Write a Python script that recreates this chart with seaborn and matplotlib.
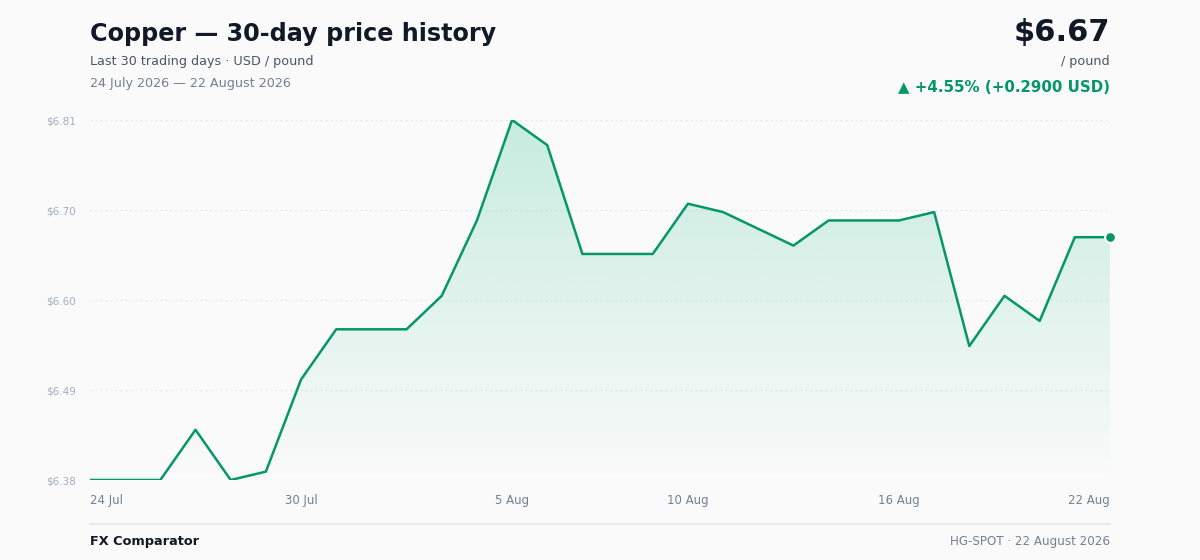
"""Copper 30-day price history card, drawn with seaborn + matplotlib."""

import matplotlib

matplotlib.use("Agg")

import matplotlib.pyplot as plt
import numpy as np
import pandas as pd
import seaborn as sns
from matplotlib.colors import to_rgb

# --- data -------------------------------------------------------------------
dates = pd.date_range("2026-07-24", "2026-08-22", freq="D")
prices = [
    6.38, 6.38, 6.38, 6.44, 6.38, 6.39, 6.50, 6.56, 6.56, 6.56,
    6.60, 6.69, 6.81, 6.78, 6.65, 6.65, 6.65, 6.71, 6.70, 6.68,
    6.66, 6.69, 6.69, 6.69, 6.70, 6.54, 6.60, 6.57, 6.67, 6.67,
]
tick_idx = [0, 6, 12, 17, 23, 29]
tick_labels = ["24 Jul", "30 Jul", "5 Aug", "10 Aug", "16 Aug", "22 Aug"]

GREEN = "#059669"
BG = "#fafafa"
DARK = "#111827"
MUTED = "#4a5568"
LIGHT = "#718096"

df = pd.DataFrame({"day": np.arange(len(prices)), "price": prices, "date": dates})

sns.set_theme(style="white")
plt.rcParams["font.family"] = ["DejaVu Sans"]

fig = plt.figure(figsize=(12, 5.6), dpi=100, facecolor=BG)
ax = fig.add_axes([90 / 1200, 1 - 480 / 560, 1020 / 1200, 360 / 560])
ax.set_facecolor(BG)

lo, hi = min(prices), max(prices)
ax.set_xlim(0, len(prices) - 1)
ax.set_ylim(lo, hi)

# gradient area under the line
poly = ax.fill_between(df["day"], df["price"], lo, color="none", lw=0)
r, g, b = to_rgb("#10b981")
grad = np.zeros((256, 1, 4))
grad[..., 0], grad[..., 1], grad[..., 2] = r, g, b
grad[:, 0, 3] = np.linspace(0.22, 0.0, 256)
img = ax.imshow(grad, aspect="auto", extent=[0, len(prices) - 1, lo, hi],
                origin="upper", zorder=1)
img.set_clip_path(poly.get_paths()[0], transform=ax.transData)

sns.lineplot(data=df, x="day", y="price", color=GREEN, lw=1.8, ax=ax, zorder=3)
ax.scatter([df["day"].iloc[-1]], [prices[-1]], s=60, color=GREEN,
           edgecolor="white", linewidth=1.5, zorder=4, clip_on=False)

# axes styling
yticks = np.linspace(lo, hi, 5)
ax.set_yticks(yticks)
ax.set_yticklabels([f"${v + 1e-9:.2f}" for v in yticks], fontsize=7.5, color="#a0aec0")
for y in yticks:
    ax.axhline(y, color="#e2e8f0", lw=0.9, ls=(0, (1.5, 2.5)), zorder=0)
ax.set_xticks(tick_idx)
ax.set_xticklabels(tick_labels, fontsize=8.5, color=LIGHT)
xt = ax.get_xticklabels()
xt[0].set_ha("left")
xt[-1].set_ha("right")
ax.tick_params(axis="both", length=0)
ax.tick_params(axis="x", pad=10)
ax.tick_params(axis="y", pad=10)
ax.set_xlabel("")
ax.set_ylabel("")
sns.despine(ax=ax, left=True, bottom=True)

# header
fig.text(90 / 1200, 1 - 34 / 560, "Copper — 30-day price history", fontsize=17.2,
         fontweight="bold", color=DARK, va="center")
fig.text(90 / 1200, 1 - 61 / 560, "Last 30 trading days · USD / pound",
         fontsize=9.2, color=MUTED, va="center")
fig.text(90 / 1200, 1 - 83 / 560, "24 July 2026 — 22 August 2026",
         fontsize=9.2, color=LIGHT, va="center")

change = prices[-1] - prices[0]
pct = change / prices[0] * 100
fig.text(1110 / 1200, 1 - 32 / 560, f"${prices[-1]:.2f}", fontsize=22,
         fontweight="bold", color=DARK, va="center", ha="right")
fig.text(1110 / 1200, 1 - 61 / 560, "/ pound", fontsize=9.2, color=MUTED,
         va="center", ha="right")
fig.text(1110 / 1200, 1 - 87 / 560, f"▲ +{pct:.2f}% (+{change:.4f} USD)",
         fontsize=10.8, fontweight="bold", color=GREEN, va="center", ha="right")

# footer
fig.add_artist(plt.Line2D([90 / 1200, 1110 / 1200], [1 - 524 / 560] * 2,
                          color="#e5e7eb", lw=1.2))
fig.text(90 / 1200, 1 - 541 / 560, "FX Comparator", fontsize=9.3,
         fontweight="bold", color=DARK, va="center")
fig.text(1110 / 1200, 1 - 541 / 560, "HG-SPOT · 22 August 2026", fontsize=8.6,
         color=LIGHT, va="center", ha="right")

fig.savefig("out.png", dpi=100, facecolor=BG)
